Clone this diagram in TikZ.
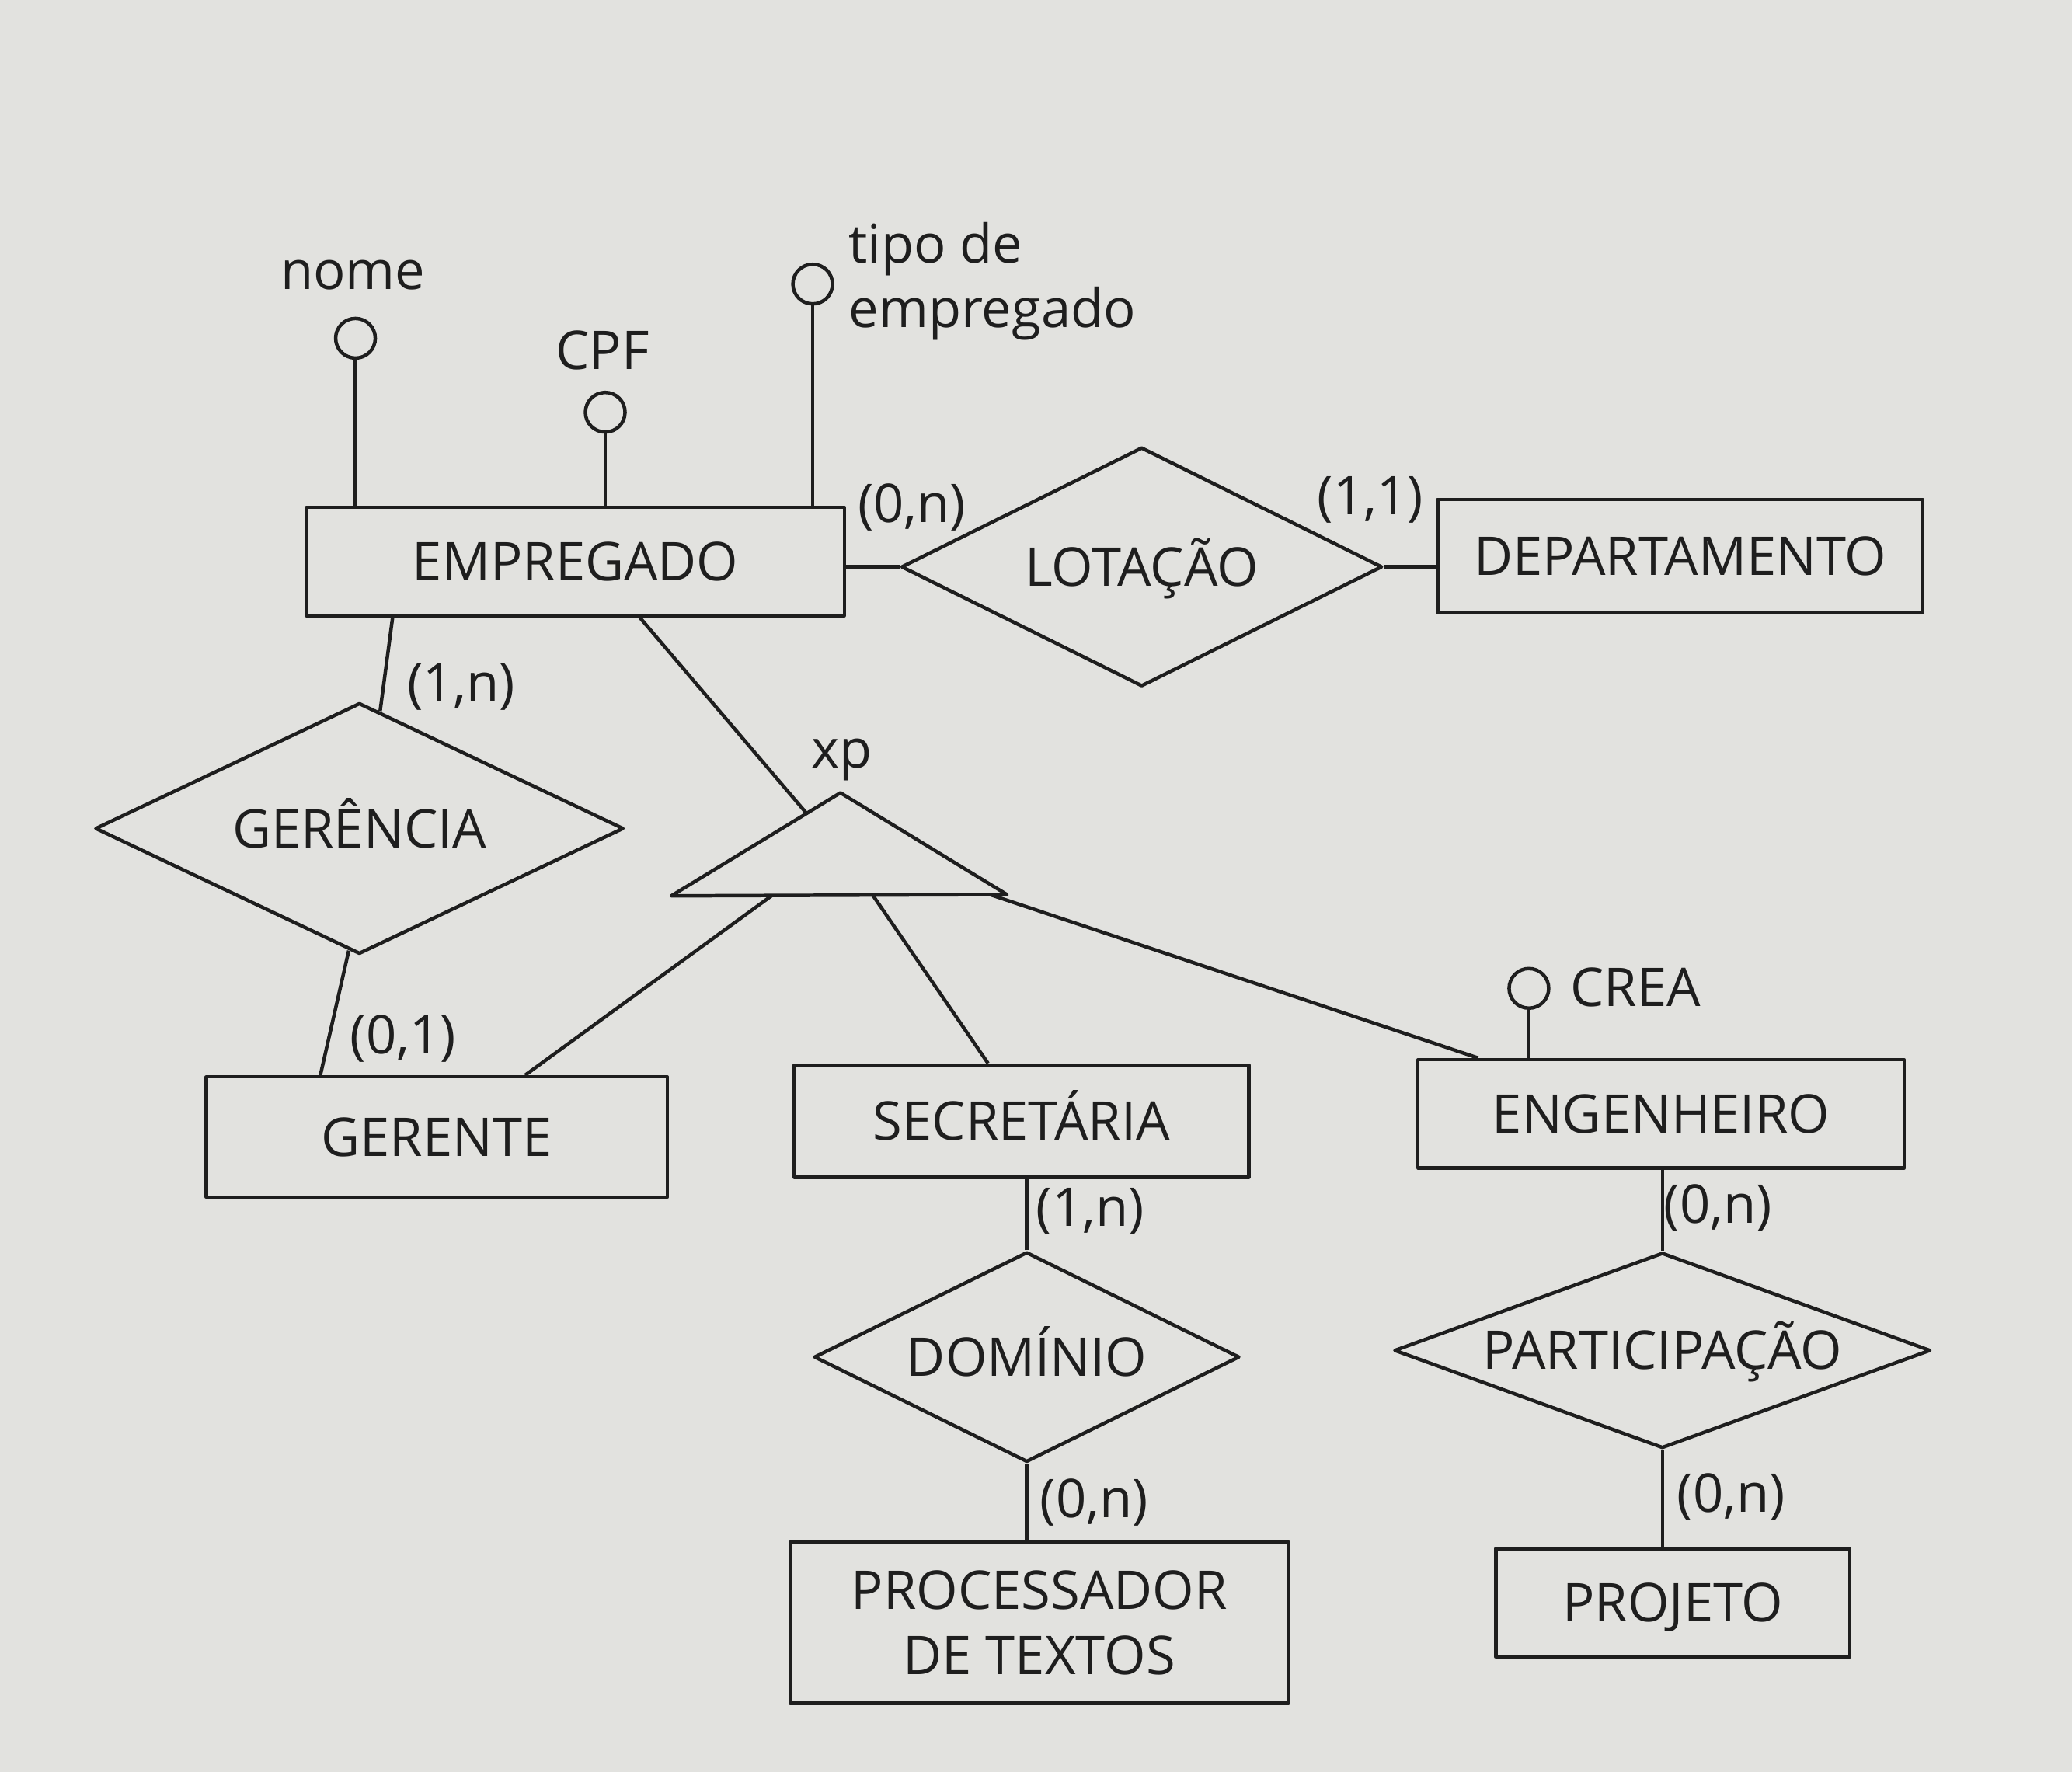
\documentclass[tikz,border=0pt]{standalone}
\usepackage{fontspec}
\setmainfont{Open Sans}
\usetikzlibrary{shapes.geometric,calc}
\definecolor{paper}{RGB}{226,226,223}
\definecolor{ink}{RGB}{30,30,30}
\begin{document}
\begin{tikzpicture}[x=.02cm,y=-.02cm,line width=1.5pt,line join=round,color=ink,
    every node/.style={font=\fontsize{23}{28}\selectfont,inner sep=0pt},
    ent/.style={draw,rectangle,text height=.58cm,text depth=0pt},
    rel/.style={draw,diamond,aspect=2.5,text height=.58cm,text depth=0pt},
    attr/.style={draw,circle,minimum size=.6cm}]
  \fill[paper] (0,0) rectangle (1568,1341);
  \useasboundingbox (0,0) rectangle (1568,1341);
  \node[ent,minimum width=8.14cm,minimum height=1.64cm] (emp) at (435.5,425) {EMPREGADO};
  \node[ent,minimum width=7.34cm,minimum height=1.72cm] (dep) at (1271.5,421) {DEPARTAMENTO};
  \node[ent,minimum width=6.98cm,minimum height=1.82cm] (gerente) at (330.5,860.5) {GERENTE};
  \node[ent,minimum width=6.88cm,minimum height=1.7cm] (sec) at (773,848.5) {SECRETÁRIA};
  \node[ent,minimum width=7.36cm,minimum height=1.64cm] (eng) at (1257,843) {ENGENHEIRO};
  \node[draw,minimum width=7.54cm,minimum height=2.44cm,align=center] (proc) at (786.5,1228) {PROCESSADOR\\DE TEXTOS};
  \node[ent,minimum width=5.36cm,minimum height=1.64cm] (proj) at (1266,1213) {PROJETO};
  \node[rel,minimum width=7.28cm,minimum height=3.62cm] (lot) at (864,429) {LOTAÇÃO};
  \node[rel,minimum width=8cm,minimum height=3.8cm] (ger) at (272,627) {GERÊNCIA};
  \node[rel,minimum width=6.44cm,minimum height=3.18cm] (dom) at (777,1027) {DOMÍNIO};
  \node[rel,minimum width=8.12cm,minimum height=2.96cm] (part) at (1258,1022) {PARTICIPAÇÃO};
  \node[attr] (nome) at (269,256) {};
  \node[attr] (cpf) at (458,312) {};
  \node[attr] (tipo) at (615,215) {};
  \node[attr] (crea) at (1157,748) {};
  \node (nomeT) at (267,208) {nome};
  \node (cpfT) at (456,265) {CPF};
  \node[anchor=west,align=left] (tipoT) at (641,213) {tipo de\\empregado};
  \node[anchor=west] (creaT) at (1187,747) {CREA};
  \draw (nome) -- (nome |- emp.north);
  \draw (cpf) -- (cpf |- emp.north);
  \draw (tipo) -- (tipo |- emp.north);
  \draw (crea) -- (crea |- eng.north);
  \draw (lot.west) -- (lot.west -| emp.east);
  \draw (lot.east) -- (lot.east -| dep.west);
  \draw (emp.197) -- (ger.80);
  \draw (ger.265) -- (gerente.152);
  \draw (dom.north) -- (dom.north |- sec.south);
  \draw (dom.south) -- (dom.south |- proc.north);
  \draw (part.north) -- (part.north |- eng.south);
  \draw (part.south) -- (part.south |- proj.north);
  \coordinate (xpT) at (636,600);
  \coordinate (xpL) at (508,678);
  \coordinate (xpR) at (762,677);
  \draw (xpL) -- (xpT) -- (xpR) -- cycle;
  \node (xp) at (637,575) {xp};
  \draw (emp.319) -- ($(xpL)!.8!(xpT)$);
  \draw ($(xpL)!.3!(xpR)$) -- (gerente.35);
  \draw ($(xpL)!.6!(xpR)$) -- (sec.120);
  \draw ($(xpL)!.95!(xpR)$) -- (eng.163);
  \node (cEmpLot) at (690,384) {(0,n)};
  \node (cDepLot) at (1037,378) {(1,1)};
  \node (cEmpGer) at (349,520) {(1,n)};
  \node (cGerGer) at (305,786) {(0,1)};
  \node (cSecDom) at (825,917) {(1,n)};
  \node (cProcDom) at (828,1137) {(0,n)};
  \node (cEngPart) at (1300,914) {(0,n)};
  \node (cProjPart) at (1310,1133) {(0,n)};
\end{tikzpicture}
\end{document}
